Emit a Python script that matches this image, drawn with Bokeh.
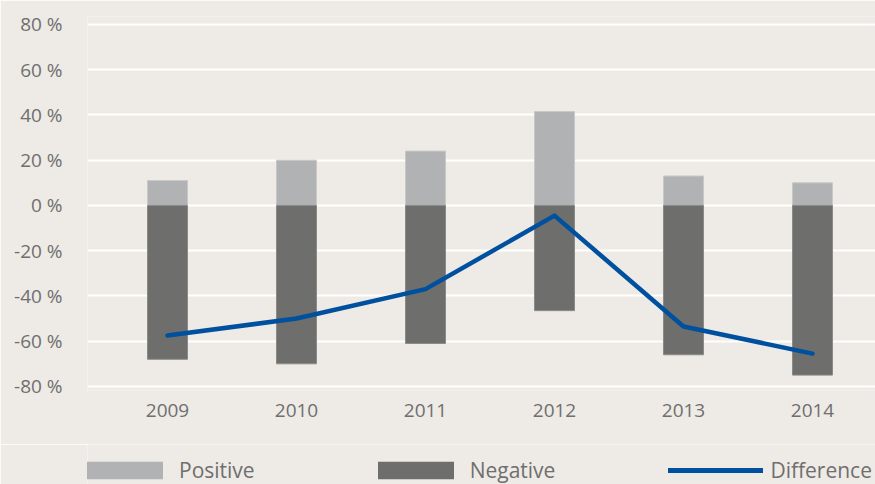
from bokeh.plotting import figure
from bokeh.models import Range1d, FixedTicker, Legend, LegendItem, ColumnDataSource
from bokeh.layouts import column
from bokeh.embed import file_html
from bokeh.resources import INLINE

years = ["2009", "2010", "2011", "2012", "2013", "2014"]
positive = [11, 20, 24, 41.5, 13, 10]
negative = [-68, -70, -61, -46.5, -66, -75]
difference = [-57.5, -50, -37, -4.5, -53.5, -65.5]
y_ticks = [-80, -60, -40, -20, 0, 20, 40, 60, 80]
y_tick_labels = ["-80 %", "-60 %", "-40 %", "-20 %", "0 %", "20 %", "40 %", "60 %", "80 %"]
series_names = ["Positive", "Negative", "Difference"]

BG = "#EEEAE5"
TXT = "#6F6F6F"
FONT = "Open Sans"
C_POS = "#B1B2B4"
C_NEG = "#6E6E6C"
C_LINE = "#0050A0"

xs = list(range(len(years)))
src = ColumnDataSource(dict(x=xs, pos=positive, neg=negative, diff=difference))

p = figure(width=875, height=444, output_backend="svg", toolbar_location=None,
           x_range=Range1d(-80 / 129, 708 / 129), y_range=Range1d(-81.8, 83.5),
           min_border_left=87, min_border_right=0, min_border_top=16, min_border_bottom=54)
p.background_fill_color = BG
p.border_fill_color = BG
p.outline_line_color = None

p.vbar(x="x", top="pos", bottom=0, width=0.31, source=src,
       fill_color=C_POS, line_color="#C8C8C8", line_width=1)
p.vbar(x="x", top=0, bottom="neg", width=0.31, source=src,
       fill_color=C_NEG, line_color="#8A8A88", line_width=1)
p.line(x="x", y="diff", source=src, line_color=C_LINE, line_width=4.5,
       line_cap="round", line_join="round")

p.xgrid.grid_line_color = None
p.ygrid.grid_line_color = "white"
p.ygrid.grid_line_width = 2
p.ygrid.ticker = FixedTicker(ticks=y_ticks)

p.yaxis.ticker = FixedTicker(ticks=y_ticks)
p.yaxis.major_label_overrides = {t: l for t, l in zip(y_ticks, y_tick_labels)}
p.xaxis.ticker = FixedTicker(ticks=xs)
p.xaxis.major_label_overrides = {i: y for i, y in zip(xs, years)}

for ax in (p.xaxis[0], p.yaxis[0]):
    ax.axis_line_color = None
    ax.major_tick_line_color = None
    ax.minor_tick_line_color = None
    ax.major_tick_out = 0
    ax.major_tick_in = 0
    ax.minor_tick_out = 0
    ax.major_label_text_font = FONT
    ax.major_label_text_font_size = "19px"
    ax.major_label_text_color = TXT
p.yaxis.major_label_standoff = 25
p.xaxis.major_label_standoff = 13

# legend strip below the chart (proxy glyphs sit outside the visible range)
lg = figure(width=875, height=40, output_backend="svg", toolbar_location=None,
            x_axis_type=None, y_axis_type=None, x_range=Range1d(0, 1), y_range=Range1d(0, 1),
            min_border=0)
lg.background_fill_color = BG
lg.border_fill_color = BG
lg.outline_line_color = None
proxy = ColumnDataSource(dict(x=[-10, -9], y=[-10, -9]))
g1 = lg.vbar(x="x", top="y", width=0.1, source=proxy, fill_color=C_POS, line_color=None)
g2 = lg.vbar(x="x", top="y", width=0.1, source=proxy, fill_color=C_NEG, line_color=None)
g3 = lg.line(x="x", y="y", source=proxy, line_color=C_LINE, line_width=5, line_cap="round")

legend = Legend(items=[LegendItem(label=series_names[0], renderers=[g1]),
                       LegendItem(label=series_names[1], renderers=[g2]),
                       LegendItem(label=series_names[2], renderers=[g3])],
                orientation="horizontal", location=(-10, 0),
                glyph_width=95, glyph_height=22, label_standoff=7, spacing=113,
                padding=0, margin=0, background_fill_alpha=0, border_line_color=None,
                label_text_font=FONT, label_text_font_size="21px", label_text_color=TXT)
lg.add_layout(legend, "center")

layout = column(p, lg, spacing=0)
open("out.html", "w").write(file_html(layout, INLINE))
